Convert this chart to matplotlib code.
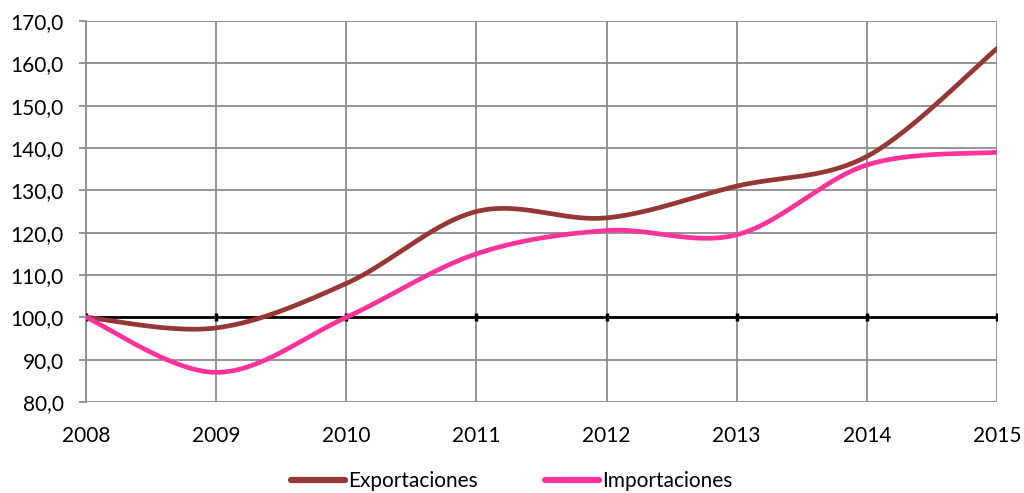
import numpy as np
import matplotlib
matplotlib.use("Agg")
import matplotlib.pyplot as plt
from matplotlib.ticker import FuncFormatter

years = [2008, 2009, 2010, 2011, 2012, 2013, 2014, 2015]
exportaciones = [100.0, 97.5, 108.0, 125.0, 123.5, 131.0, 138.0, 163.5]
importaciones = [100.0, 87.0, 100.0, 115.0, 120.5, 119.5, 136.0, 139.0]
series_names = ["Exportaciones", "Importaciones"]
colors = ["#953735", "#FF3399"]

plt.rcParams['font.family'] = ['Lato', 'DejaVu Sans']


def smooth(x, y, n=40):
    # Excel-like smoothing: cubic Bezier with Catmull-Rom control points
    x = np.asarray(x, float)
    y = np.asarray(y, float)
    px, py = [], []
    for i in range(len(x) - 1):
        x0, y0 = (x[i - 1], y[i - 1]) if i > 0 else (x[i], y[i])
        x3, y3 = (x[i + 2], y[i + 2]) if i + 2 < len(x) else (x[i + 1], y[i + 1])
        c1x = x[i] + (x[i + 1] - x0) / 6
        c1y = y[i] + (y[i + 1] - y0) / 6
        c2x = x[i + 1] - (x3 - x[i]) / 6
        c2y = y[i + 1] - (y3 - y[i]) / 6
        t = np.linspace(0, 1, n)
        bx = (1 - t) ** 3 * x[i] + 3 * (1 - t) ** 2 * t * c1x + 3 * (1 - t) * t ** 2 * c2x + t ** 3 * x[i + 1]
        by = (1 - t) ** 3 * y[i] + 3 * (1 - t) ** 2 * t * c1y + 3 * (1 - t) * t ** 2 * c2y + t ** 3 * y[i + 1]
        px.extend(bx)
        py.extend(by)
    return np.array(px), np.array(py)


fig = plt.figure(figsize=(10.24, 4.93), dpi=100)
ax = fig.add_axes([86 / 1024, 1 - 402 / 493, (997 - 86) / 1024, (402 - 21) / 493])

ax.set_xlim(years[0], years[-1])
ax.set_ylim(80, 170)
ax.set_yticks(np.arange(80, 171, 10))
ax.set_xticks(years)
ax.yaxis.set_major_formatter(FuncFormatter(lambda v, p: f"{v:.1f}".replace(".", ",")))
ax.grid(True, color="#8c8c8c", linewidth=1.3)
ax.set_axisbelow(True)
for s in ax.spines.values():
    s.set_visible(False)
ax.spines['left'].set_visible(True)
ax.spines['left'].set_color("#8c8c8c")
ax.spines['left'].set_linewidth(1.3)
ax.tick_params(axis='y', length=5, color="#8c8c8c", width=1.3, labelsize=15, pad=11)
ax.tick_params(axis='x', length=0, labelsize=15, pad=17)

# black axis line at 100 with tick marks
ax.axhline(100, color="black", linewidth=2, zorder=3)
ax.plot(years, [100] * len(years), linestyle="none", marker="|", markersize=6,
        markeredgewidth=2.5, color="black", zorder=3)

for name, vals, c in zip(series_names, [exportaciones, importaciones], colors):
    sx, sy = smooth(years, vals)
    ax.plot(sx, sy, color=c, linewidth=3.4, label=name, zorder=4, solid_capstyle="round")

leg = fig.legend(loc="center", bbox_to_anchor=(0.5, 1 - 481 / 493), ncol=2, frameon=False,
                 fontsize=15, handlelength=2.6, handletextpad=0.15, columnspacing=3.2,
                 borderpad=0, borderaxespad=0)
for h in leg.get_lines():
    h.set_linewidth(4.5)

fig.savefig("out.png", dpi=100)
